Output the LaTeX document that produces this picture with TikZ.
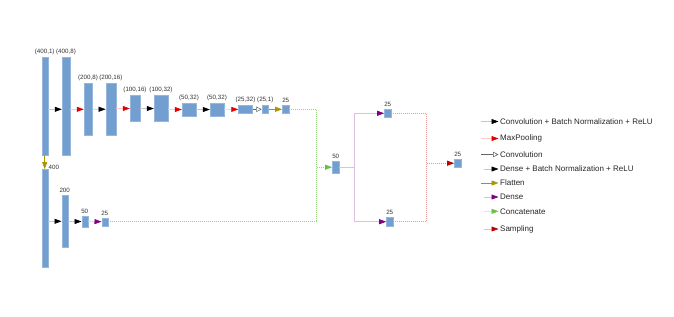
\documentclass[tikz,border=0pt]{standalone}
\usepackage{fontspec}
\setmainfont{Liberation Sans}
\usetikzlibrary{arrows.meta}
\definecolor{boxblue}{RGB}{114,159,207}
\definecolor{flatcol}{RGB}{168,150,0}
\definecolor{densecol}{RGB}{128,0,128}
\definecolor{catcol}{RGB}{106,190,69}
\definecolor{sampcol}{RGB}{192,0,0}
\tikzset{
	blk/.style={fill=boxblue, draw=boxblue!75!white, line width=0.4pt, inner sep=0pt},
	every label/.style={font=\fontsize{6.2}{7}\selectfont, inner sep=0.5pt, text=black!80},
	legtxt/.style={font=\fontsize{8}{9.6}\selectfont, anchor=west, inner sep=1.5pt, text=black!85},
	tipf/.style={-{Triangle[length=7pt,width=5pt,color=#1]}},
	cbr/.style={draw=black!22, line width=0.6pt, tipf=black},
	pool/.style={draw=red!22, line width=0.6pt, tipf={red!90!black}},
	conv/.style={draw=black!60, line width=0.6pt, -{Triangle[open,length=5.5pt,width=5.5pt]}},
	flat/.style={draw=flatcol, line width=0.7pt, tipf=flatcol},
	dense/.style={draw=densecol!25, line width=0.6pt, tipf=densecol},
	concat/.style={draw=catcol!70, line width=0.6pt, dash pattern=on 1pt off 1pt},
	samp/.style={draw=sampcol!40, line width=0.6pt, dash pattern=on 1pt off 1pt},
	catleg/.style={draw=catcol!25, line width=0.6pt, tipf=catcol},
	sampleg/.style={draw=sampcol!25, line width=0.6pt, tipf=sampcol}
}
\begin{document}
\begin{tikzpicture}[x=1pt,y=-1pt,label distance=1.5pt]
	\useasboundingbox (0,0) rectangle (674,316);
	% convolution branch
	\node[blk, minimum width=6pt, minimum height=98pt, label=above:{(400,1)}] (c1) at (44.7,106.2) {};
	\node[blk, minimum width=8pt, minimum height=98pt, label=above:{(400,8)}] (c2) at (66,106.5) {};
	\node[blk, minimum width=8pt, minimum height=52pt, label=above:{(200,8)}] (c3) at (88,109.3) {};
	\node[blk, minimum width=10pt, minimum height=52pt, label=above:{(200,16)}] (c4) at (110.8,109.2) {};
	\node[blk, minimum width=10pt, minimum height=26pt, label=above:{(100,16)}] (c5) at (135,108.5) {};
	\node[blk, minimum width=14pt, minimum height=26pt, label=above:{(100,32)}] (c6) at (161,108.5) {};
	\node[blk, minimum width=14pt, minimum height=12.5pt, label=above:{(50,32)}] (c7) at (189,109.5) {};
	\node[blk, minimum width=14pt, minimum height=12.5pt, label=above:{(50,32)}] (c8) at (217,109.5) {};
	\node[blk, minimum width=14pt, minimum height=8pt, label=above:{(25,32)}] (c9) at (245.5,109.3) {};
	\node[blk, minimum width=6.7pt, minimum height=8pt, label=above:{(25,1)}] (c10) at (265.3,109.3) {};
	\node[blk, minimum width=6.7pt, minimum height=8pt, label=above:{25}] (c11) at (285.7,109.3) {};
	% dense branch
	\node[blk, minimum width=6pt, minimum height=98pt, label={[anchor=west]north east:400}] (d1) at (44.7,218.3) {};
	\node[blk, minimum width=6pt, minimum height=52pt, label=above:{200}] (d2) at (64.7,221.3) {};
	\node[blk, minimum width=6pt, minimum height=11.6pt, label=above:{50}] (d3) at (84.7,221.5) {};
	\node[blk, minimum width=6pt, minimum height=8pt, label=above:{25}] (d4) at (104.7,221.7) {};
	% merged part
	\node[blk, minimum width=6.7pt, minimum height=12.3pt, label=above:{50}] (m1) at (335.7,167.2) {};
	\node[blk, minimum width=6.7pt, minimum height=8.7pt, label=above:{25}] (z1) at (387.7,113.3) {};
	\node[blk, minimum width=6.7pt, minimum height=8.7pt, label=above:{25}] (z2) at (389.7,221.7) {};
	\node[blk, minimum width=6.7pt, minimum height=8.3pt, label=above:{25}] (s1) at (457.7,163.2) {};
	\coordinate (j1) at (316.7,167.2);
	\coordinate (j2) at (354.3,167.2);
	\coordinate (j3) at (426.7,163.2);
	% connections
	\draw[cbr] (c1.east |- c3) -- (c2.west |- c3);
	\draw[pool] (c2.east |- c3) -- (c3.west);
	\draw[cbr] (c3) -- (c4);
	\draw[pool] (c4.east |- c5) -- (c5.west);
	\draw[cbr] (c5) -- (c6);
	\draw[pool] (c6.east |- c7) -- (c7.west);
	\draw[cbr] (c7) -- (c8);
	\draw[pool] (c8) -- (c9);
	\draw[conv] (c9) -- (c10);
	\draw[flat] (c10) -- (c11);
	\draw[flat] (c1) -- (d1);
	\draw[cbr] (d1.east |- d2) -- (d2.west);
	\draw[cbr] (d2.east |- d3) -- (d3.west);
	\draw[dense] (d3) -- (d4);
	\draw[concat] (c11.east) -| (j1);
	\draw[concat] (d4.east) -| (j1);
	\draw[concat, tipf=catcol] (j1) -- (m1.west);
	\draw[dense, -] (m1.east) -- (j2);
	\draw[dense] (j2) |- (z1.west);
	\draw[dense] (j2) |- (z2.west);
	\draw[samp] (z1.east) -| (j3);
	\draw[samp] (z2.east) -| (j3);
	\draw[samp, tipf=sampcol] (j3) -- (s1.west);
	% legend
	\foreach \yy/\xs/\st/\txt [count=\i] in {121.5/481/cbr/{Convolution + Batch Normalization + ReLU},
		138.5/481/pool/{MaxPooling}, 154.5/481/conv/{Convolution},
		169/484/cbr/{Dense + Batch Normalization + ReLU}, 183/481/flat/{Flatten},
		197/484/dense/{Dense}, 211.3/484/catleg/{Concatenate},
		229/484/sampleg/{Sampling}} {
		\node[legtxt] (leg\i) at (498.5,\yy) {\txt};
		\coordinate (ls\i) at (\xs,\yy);
		\draw[\st] (ls\i) -- (leg\i.west);
	}
\end{tikzpicture}
\end{document}
